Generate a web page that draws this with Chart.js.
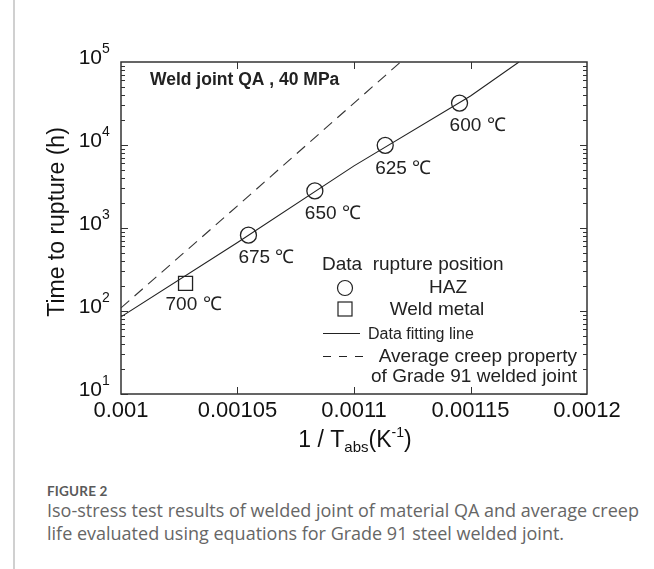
<!DOCTYPE html>
<html>
<head>
<meta charset="utf-8">
<script src="https://cdn.jsdelivr.net/npm/chart.js@4.4.1/dist/chart.umd.min.js"></script>
<style>
  html, body { margin: 0; padding: 0; background: #fff; }
  body { width: 654px; height: 569px; position: relative; overflow: hidden; }
  #rule { position: absolute; left: 13px; top: 0; width: 2px; height: 569px; background: #d0d0d0; }
  #wrap { position: absolute; left: 0; top: 0; width: 654px; height: 470px; }
  #cap-head { position: absolute; left: 47px; top: 483px; font: 700 13.5px Lato, sans-serif; color: #5a5a5a; letter-spacing: 0.2px; }
  #cap-text { position: absolute; left: 47px; top: 499px; width: 605px; font: 18px/22.5px "Open Sans", sans-serif; color: #666; white-space: nowrap; }
</style>
</head>
<body>
<div id="rule"></div>
<div id="wrap"><canvas id="chart" width="654" height="470"></canvas></div>
<div id="cap-head">FIGURE 2</div>
<div id="cap-text">Iso-stress test results of welded joint of material QA and average creep<br>life evaluated using equations for Grade 91 steel welded joint.</div>
<script>
// HAZ ruptures (1/T in 1/K, time in h)
const hazTemps = ['675 ℃', '650 ℃', '625 ℃', '600 ℃'];
const hazInvT = [0.0010547, 0.0010832, 0.0011134, 0.0011453];
const hazLife = [820, 2800, 9900, 32000];

// weld metal rupture
const weldTemps = ['700 ℃'];
const weldInvT = [0.0010277];
const weldLife = [215];

// data fitting line
const fitInvT = [0.001, 0.00105, 0.0011, 0.00115, 0.0011708];
const fitLife = [85, 670, 5600, 39000, 100000];

// average creep property of Grade 91 welded joint
const avgInvT = [0.001, 0.00105, 0.0011, 0.00112];
const avgLife = [109, 1850, 32000, 100000];

// y axis decades (10^n)
const yExps = [1, 2, 3, 4, 5];
// inner x tick marks
const xMarks = [0.00105, 0.0011, 0.00115];

const pts = (xs, ys) => xs.map((x, i) => ({ x: x, y: ys[i] }));
const FONT = '"Liberation Sans", Arial, sans-serif';
const INK = '#222';

const decor = {
  id: 'decor',
  afterDraw(chart) {
    const ctx = chart.ctx;
    const a = chart.chartArea;
    const x = chart.scales.x, y = chart.scales.y;
    ctx.save();

    // frame
    ctx.strokeStyle = '#333';
    ctx.lineWidth = 1.5;
    ctx.strokeRect(a.left, a.top, a.right - a.left, a.bottom - a.top);

    // inner log ticks on left and right
    ctx.lineWidth = 1;
    ctx.beginPath();
    for (let e = 1; e < 5; e++) {
      for (let m = 1; m <= 9; m++) {
        const py = Math.round(y.getPixelForValue(m * Math.pow(10, e))) + 0.5;
        const len = m === 1 ? 7 : 4;
        ctx.moveTo(a.left, py); ctx.lineTo(a.left + len, py);
        ctx.moveTo(a.right, py); ctx.lineTo(a.right - len, py);
      }
    }
    xMarks.forEach(v => {
      const px = Math.round(x.getPixelForValue(v)) + 0.5;
      ctx.moveTo(px, a.top); ctx.lineTo(px, a.top + 7);
      ctx.moveTo(px, a.bottom); ctx.lineTo(px, a.bottom - 7);
    });
    ctx.stroke();

    // y tick labels 10^n
    ctx.fillStyle = '#111';
    ctx.textBaseline = 'middle';
    yExps.forEach(e => {
      const py = y.getPixelForValue(Math.pow(10, e));
      ctx.font = '21px ' + FONT;
      ctx.textAlign = 'right';
      ctx.fillText('10', a.left - 19, py - 4);
      ctx.font = '14px ' + FONT;
      ctx.textAlign = 'left';
      ctx.fillText(String(e), a.left - 19, py - 13);
    });

    // y title
    ctx.save();
    ctx.translate(58, (a.top + a.bottom) / 2 - 6);
    ctx.rotate(-Math.PI / 2);
    ctx.textAlign = 'center';
    ctx.font = '23px ' + FONT;
    ctx.fillText('Time to rupture (h)', 0, 0);
    ctx.restore();

    // x title with sub/superscript
    const parts = [['1 / T', 23, 0], ['abs', 15, 5], ['(K', 23, 0], ['-1', 14, -10], [')', 23, 0]];
    let total = 0;
    parts.forEach(p => { ctx.font = p[1] + 'px ' + FONT; total += ctx.measureText(p[0]).width; });
    let cx = (a.left + a.right) / 2 + 1 - total / 2;
    ctx.textAlign = 'left';
    ctx.textBaseline = 'alphabetic';
    parts.forEach(p => {
      ctx.font = p[1] + 'px ' + FONT;
      ctx.fillText(p[0], cx, 447 + p[2]);
      cx += ctx.measureText(p[0]).width;
    });

    // panel title
    ctx.fillStyle = INK;
    ctx.textBaseline = 'middle';
    ctx.font = 'bold 17.5px ' + FONT;
    ctx.fillText('Weld joint QA , 40 MPa', a.left + 29, a.top + 18);

    // temperature labels
    ctx.font = '19px ' + FONT;
    ctx.textAlign = 'center';
    hazTemps.forEach((t, i) => {
      ctx.fillText(t, x.getPixelForValue(hazInvT[i]) + 18, y.getPixelForValue(hazLife[i]) + 23);
    });
    weldTemps.forEach((t, i) => {
      ctx.fillText(t, x.getPixelForValue(weldInvT[i]) + 8, y.getPixelForValue(weldLife[i]) + 21);
    });

    // legend
    ctx.textAlign = 'left';
    ctx.fillText('Data  rupture position', 322, 265);
    ctx.textAlign = 'center';
    ctx.fillText('HAZ', 448, 288);
    ctx.fillText('Weld metal', 437, 310);
    ctx.textAlign = 'right';
    ctx.fillText('Average creep property', 577, 357);
    ctx.fillText('of Grade 91 welded joint', 577, 377);
    ctx.textAlign = 'left';
    ctx.font = '16px ' + FONT;
    ctx.fillText('Data fitting line', 368, 335);

    ctx.strokeStyle = INK;
    ctx.lineWidth = 1.2;
    ctx.beginPath();
    ctx.arc(345, 288, 7.5, 0, Math.PI * 2);
    ctx.stroke();
    ctx.strokeRect(338, 302, 14, 14);
    ctx.lineWidth = 1;
    ctx.beginPath();
    ctx.moveTo(323, 333.5); ctx.lineTo(360, 333.5);
    ctx.stroke();
    ctx.setLineDash([8, 8]);
    ctx.beginPath();
    ctx.moveTo(323, 356.5); ctx.lineTo(363, 356.5);
    ctx.stroke();
    ctx.restore();
  }
};

new Chart(document.getElementById('chart'), {
  type: 'scatter',
  data: {
    datasets: [
      {
        label: 'Data fitting line',
        data: pts(fitInvT, fitLife),
        showLine: true,
        borderColor: INK,
        borderWidth: 1.1,
        pointRadius: 0
      },
      {
        label: 'Average creep property of Grade 91 welded joint',
        data: pts(avgInvT, avgLife),
        showLine: true,
        borderColor: '#333',
        borderWidth: 1.1,
        borderDash: [11, 7],
        pointRadius: 0
      },
      {
        label: 'HAZ',
        data: pts(hazInvT, hazLife),
        pointStyle: 'circle',
        pointRadius: 8,
        borderColor: INK,
        borderWidth: 1.3,
        backgroundColor: 'rgba(0,0,0,0)'
      },
      {
        label: 'Weld metal',
        data: pts(weldInvT, weldLife),
        pointStyle: 'rect',
        pointRadius: 9.9,
        borderColor: INK,
        borderWidth: 1.3,
        backgroundColor: 'rgba(0,0,0,0)'
      }
    ]
  },
  options: {
    responsive: false,
    animation: false,
    layout: { padding: { top: 62, right: 67, left: 0, bottom: 0 } },
    plugins: { legend: { display: false }, tooltip: { enabled: false } },
    scales: {
      x: {
        type: 'linear',
        min: 0.001,
        max: 0.0012,
        grid: { display: false, drawTicks: false },
        border: { display: false },
        ticks: {
          stepSize: 0.00005,
          autoSkip: false,
          maxRotation: 0,
          padding: 4,
          color: '#111',
          font: { family: 'Liberation Sans', size: 22 },
          callback: v => String(+v.toFixed(5))
        },
        afterFit: s => { s.height = 76; }
      },
      y: {
        type: 'logarithmic',
        min: 10,
        max: 100000,
        grid: { display: false, drawTicks: false },
        border: { display: false },
        ticks: { callback: () => '' },
        afterFit: s => { s.width = 121; }
      }
    }
  },
  plugins: [decor]
});
</script>
</body>
</html>
